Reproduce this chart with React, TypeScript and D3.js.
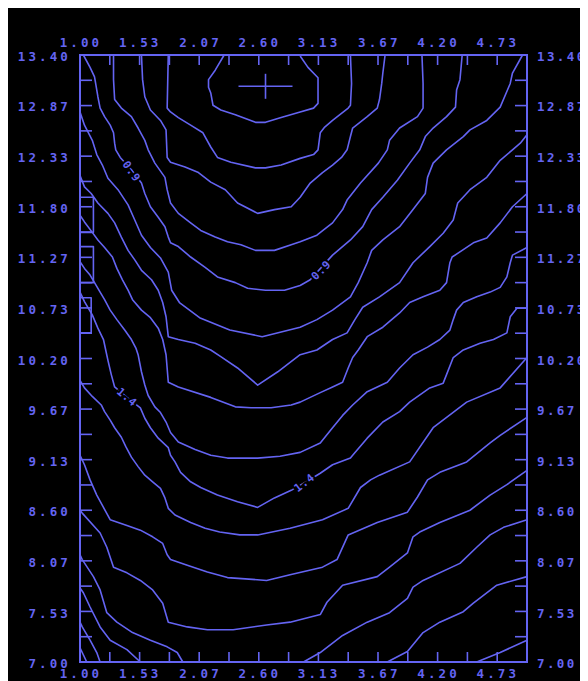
import React from "react";
import * as d3 from "d3";

type P = [number, number];

const xTickLabels = ["1.00", "1.53", "2.07", "2.60", "3.13", "3.67", "4.20", "4.73"];
const yTickLabels = ["13.40", "12.87", "12.33", "11.80", "11.27", "10.73", "10.20", "9.67", "9.13", "8.60", "8.07", "7.53", "7.00"];
const xDomain: P = [1, 5];
const yDomain: P = [7, 13.4];
const xMinorCount = 15;
const yMinorCount = 24;

const minMarker: P = [2.66, 13.07];

// contour polylines (data units), levels 0.5 .. 2.1
const c05: P[] = [[2.29,13.40],[2.21,13.24],[2.15,13.14],[2.15,13.06],[2.17,13.00],[2.19,12.87],[2.26,12.82],[2.39,12.77],[2.57,12.69],[2.66,12.69],[2.80,12.74],[2.97,12.80],[3.09,12.84],[3.13,12.89],[3.13,13.16],[3.04,13.27],[2.97,13.39]];
const c06: P[] = [[1.79,13.40],[1.78,12.84],[1.81,12.80],[1.88,12.74],[1.99,12.66],[2.10,12.58],[2.17,12.43],[2.23,12.32],[2.35,12.27],[2.57,12.21],[2.66,12.21],[2.80,12.24],[2.97,12.31],[3.09,12.35],[3.13,12.40],[3.15,12.58],[3.19,12.64],[3.26,12.71],[3.40,12.84],[3.42,12.87],[3.43,13.10],[3.42,13.40]];
const c07: P[] = [[1.55,13.40],[1.56,13.14],[1.58,12.96],[1.63,12.82],[1.72,12.71],[1.77,12.61],[1.78,12.32],[1.81,12.27],[1.94,12.22],[2.06,12.16],[2.17,12.06],[2.30,11.98],[2.41,11.84],[2.59,11.73],[2.74,11.77],[2.89,11.80],[2.97,11.90],[3.06,12.05],[3.17,12.16],[3.26,12.24],[3.34,12.32],[3.39,12.40],[3.42,12.54],[3.44,12.63],[3.57,12.75],[3.66,12.84],[3.68,12.93],[3.70,13.10],[3.71,13.21],[3.73,13.40]];
const c08: P[] = [[1.30,13.40],[1.30,13.14],[1.31,12.93],[1.37,12.84],[1.46,12.75],[1.52,12.63],[1.58,12.50],[1.61,12.40],[1.67,12.26],[1.76,12.11],[1.78,11.98],[1.81,11.84],[1.88,11.73],[1.99,11.63],[2.08,11.55],[2.21,11.48],[2.32,11.43],[2.44,11.40],[2.57,11.34],[2.74,11.34],[2.89,11.40],[2.97,11.43],[3.12,11.50],[3.26,11.63],[3.35,11.77],[3.39,11.87],[3.51,12.05],[3.67,12.26],[3.75,12.40],[3.77,12.50],[3.86,12.63],[4.02,12.75],[4.07,12.84],[4.07,13.10],[4.06,13.40]];
const c09: P[] = [[1.03,13.40],[1.09,13.27],[1.13,13.17],[1.14,13.10],[1.16,12.96],[1.18,12.84],[1.22,12.75],[1.27,12.66],[1.30,12.58],[1.31,12.47],[1.32,12.40],[1.36,12.32],[1.46,12.19],[1.55,12.05],[1.58,11.94],[1.63,11.80],[1.70,11.69],[1.76,11.59],[1.79,11.48],[1.81,11.42],[1.88,11.38],[1.99,11.27],[2.12,11.16],[2.23,11.06],[2.39,11.00],[2.50,10.94],[2.66,10.92],[2.83,10.92],[2.97,10.97],[3.06,11.03],[3.26,11.29],[3.42,11.45],[3.53,11.59],[3.61,11.77],[3.71,11.90],[3.84,12.08],[3.95,12.26],[4.04,12.40],[4.09,12.54],[4.16,12.63],[4.28,12.75],[4.36,12.85],[4.37,13.03],[4.40,13.14],[4.42,13.40]];
const c10: P[] = [[1.00,12.80],[1.04,12.66],[1.11,12.50],[1.15,12.35],[1.20,12.24],[1.25,12.10],[1.34,11.98],[1.43,11.82],[1.49,11.66],[1.55,11.50],[1.63,11.37],[1.72,11.26],[1.79,11.11],[1.82,10.92],[1.89,10.79],[2.07,10.63],[2.34,10.50],[2.63,10.43],[2.97,10.53],[3.12,10.61],[3.26,10.71],[3.42,10.85],[3.49,11.00],[3.57,11.21],[3.61,11.34],[3.71,11.45],[3.86,11.59],[3.98,11.77],[4.09,11.94],[4.11,12.11],[4.16,12.26],[4.28,12.40],[4.43,12.54],[4.49,12.61],[4.64,12.71],[4.76,12.85],[4.85,13.10],[4.87,13.21],[4.96,13.40]];
const c11: P[] = [[1.00,12.13],[1.04,12.01],[1.10,11.94],[1.16,11.84],[1.25,11.73],[1.31,11.63],[1.37,11.48],[1.43,11.34],[1.49,11.24],[1.55,11.13],[1.64,11.03],[1.70,10.92],[1.74,10.79],[1.77,10.64],[1.79,10.43],[1.88,10.40],[2.03,10.36],[2.17,10.29],[2.26,10.22],[2.41,10.10],[2.59,9.92],[2.77,10.06],[2.97,10.24],[3.12,10.29],[3.26,10.40],[3.39,10.47],[3.46,10.61],[3.53,10.74],[3.68,10.85],[3.86,11.00],[3.98,11.21],[4.13,11.38],[4.25,11.52],[4.34,11.66],[4.38,11.84],[4.49,11.98],[4.64,12.11],[4.76,12.29],[4.87,12.40],[4.94,12.47],[5.00,12.56]];
const c12: P[] = [[1.00,11.71],[1.04,11.64],[1.11,11.53],[1.16,11.45],[1.22,11.37],[1.29,11.27],[1.33,11.15],[1.38,11.03],[1.43,10.92],[1.47,10.82],[1.55,10.71],[1.63,10.63],[1.70,10.52],[1.74,10.40],[1.77,10.24],[1.79,9.95],[1.88,9.90],[2.17,9.79],[2.39,9.69],[2.53,9.68],[2.71,9.68],[2.89,9.71],[2.97,9.74],[3.15,9.84],[3.26,9.90],[3.35,9.95],[3.40,10.10],[3.44,10.21],[3.49,10.29],[3.57,10.43],[3.71,10.53],[3.86,10.68],[3.95,10.79],[4.07,10.85],[4.22,10.92],[4.28,11.00],[4.31,11.21],[4.33,11.27],[4.42,11.34],[4.52,11.42],[4.64,11.47],[4.76,11.63],[4.87,11.80],[5.00,11.94]];
const c13: P[] = [[1.00,11.22],[1.04,11.15],[1.09,11.08],[1.13,11.00],[1.18,10.90],[1.22,10.82],[1.27,10.71],[1.33,10.61],[1.40,10.50],[1.46,10.40],[1.50,10.31],[1.52,10.24],[1.55,10.06],[1.58,9.92],[1.61,9.81],[1.67,9.69],[1.72,9.63],[1.77,9.53],[1.81,9.42],[1.88,9.32],[2.03,9.24],[2.17,9.18],[2.32,9.15],[2.59,9.15],[2.79,9.17],[2.97,9.21],[3.15,9.31],[3.26,9.47],[3.35,9.60],[3.44,9.71],[3.57,9.85],[3.75,9.95],[3.86,10.10],[3.98,10.24],[4.11,10.32],[4.22,10.40],[4.31,10.50],[4.34,10.61],[4.37,10.71],[4.43,10.79],[4.55,10.85],[4.67,10.90],[4.76,10.95],[4.82,11.06],[4.85,11.21],[4.87,11.29],[5.00,11.37]];
const c14: P[] = [[1.00,10.90],[1.04,10.80],[1.11,10.66],[1.16,10.52],[1.21,10.40],[1.23,10.29],[1.25,10.18],[1.28,10.03],[1.31,9.90],[1.42,9.79],[1.54,9.68],[1.58,9.57],[1.63,9.47],[1.70,9.36],[1.79,9.26],[1.81,9.18],[1.85,9.11],[1.90,9.00],[1.99,8.90],[2.08,8.84],[2.23,8.76],[2.41,8.69],[2.59,8.63],[2.74,8.73],[2.89,8.81],[3.01,8.89],[3.15,8.99],[3.26,9.08],[3.42,9.15],[3.44,9.18],[3.57,9.36],[3.71,9.53],[3.86,9.64],[3.95,9.74],[4.13,9.89],[4.25,9.94],[4.28,10.03],[4.34,10.21],[4.43,10.29],[4.58,10.36],[4.70,10.40],[4.82,10.47],[4.85,10.64],[4.91,10.73],[5.00,10.73]];
const c15: P[] = [[1.00,9.97],[1.04,9.89],[1.11,9.80],[1.19,9.71],[1.22,9.64],[1.27,9.55],[1.31,9.47],[1.37,9.37],[1.41,9.27],[1.46,9.16],[1.52,9.06],[1.58,8.97],[1.65,8.90],[1.72,8.83],[1.76,8.73],[1.79,8.62],[1.85,8.55],[1.99,8.47],[2.12,8.41],[2.25,8.37],[2.43,8.34],[2.59,8.34],[2.88,8.41],[3.17,8.50],[3.40,8.62],[3.51,8.84],[3.60,8.92],[3.68,8.97],[3.95,9.11],[4.16,9.47],[4.46,9.74],[4.76,9.89],[5.00,10.21]];
const c16: P[] = [[1.00,9.18],[1.04,9.08],[1.09,8.92],[1.15,8.76],[1.21,8.63],[1.27,8.50],[1.42,8.44],[1.54,8.39],[1.65,8.32],[1.74,8.25],[1.78,8.13],[1.81,8.08],[1.96,8.02],[2.14,7.95],[2.32,7.89],[2.67,7.86],[2.88,7.92],[3.17,8.00],[3.30,8.08],[3.40,8.34],[3.66,8.47],[3.93,8.58],[4.02,8.74],[4.11,8.92],[4.22,9.00],[4.46,9.11],[4.67,9.31],[4.76,9.39],[5.00,9.58]];
const c17: P[] = [[1.00,8.60],[1.02,8.57],[1.18,8.36],[1.24,8.21],[1.30,8.00],[1.42,7.94],[1.54,7.86],[1.65,7.76],[1.74,7.62],[1.79,7.42],[1.96,7.37],[2.14,7.34],[2.37,7.34],[2.67,7.39],[2.88,7.42],[3.15,7.50],[3.21,7.63],[3.35,7.81],[3.66,7.90],[3.77,8.00],[3.93,8.15],[3.98,8.32],[4.04,8.37],[4.22,8.47],[4.49,8.60],[4.67,8.76],[4.82,8.87],[5.00,9.02]];
const c18Left: P[] = [[1.00,8.13],[1.02,8.08],[1.12,7.90],[1.18,7.76],[1.24,7.52],[1.33,7.42],[1.47,7.31],[1.63,7.23],[1.78,7.16],[1.87,7.10],[1.92,7.00]];
const c18Right: P[] = [[3.00,7.00],[3.15,7.10],[3.35,7.28],[3.57,7.42],[3.77,7.52],[3.93,7.67],[3.98,7.79],[4.07,7.86],[4.40,8.04],[4.55,8.21],[4.67,8.34],[4.79,8.42],[5.00,8.50]];
const c19Left: P[] = [[1.00,7.78],[1.03,7.73],[1.09,7.58],[1.18,7.37],[1.27,7.23],[1.42,7.13],[1.54,7.00]];
const c19Right: P[] = [[3.75,7.00],[3.93,7.11],[4.07,7.31],[4.22,7.42],[4.43,7.53],[4.52,7.62],[4.73,7.81],[5.00,7.90]];
const c20Left: P[] = [[1.00,7.42],[1.02,7.37],[1.09,7.23],[1.15,7.10],[1.18,7.00]];
const c20Right: P[] = [[4.55,7.00],[4.76,7.10],[5.00,7.23]];
const c21Left: P[] = [[1.00,7.15],[1.06,7.00]];
const edgeBox1: P[] = [[1.00,11.90],[1.12,11.90],[1.12,11.53],[1.00,11.53]];
const edgeBox2: P[] = [[1.00,11.38],[1.12,11.38],[1.12,11.00],[1.00,11.00]];
const edgeBox3: P[] = [[1.00,10.84],[1.10,10.84],[1.10,10.47],[1.00,10.47]];

const contourLines: P[][] = [c05, c06, c07, c08, c09, c10, c11, c12, c13, c14, c15, c16, c17, c18Left, c18Right, c19Left, c19Right, c20Left, c20Right, c21Left, edgeBox1, edgeBox2, edgeBox3];

const contourLabels: { text: string; x: number; y: number; angle: number }[] = [
  { text: "0.9", x: 1.46, y: 12.17, angle: 55 },
  { text: "0.9", x: 3.16, y: 11.13, angle: -45 },
  { text: "1.4", x: 1.42, y: 9.79, angle: 40 },
  { text: "1.4", x: 3.01, y: 8.89, angle: -38 },
];

const BLUE = "#6464f2";
const FONT = "'DejaVu Sans Mono', monospace";

export default function App() {
  const W = 580, H = 673;
  const left = 72, right = 519, top = 47, bottom = 654;
  const x = d3.scaleLinear().domain(xDomain).range([left, right]);
  const y = d3.scaleLinear().domain(yDomain).range([bottom, top]);
  const line = d3.line<P>().x((d) => x(d[0])).y((d) => y(d[1]));
  const xTicks = d3.range(xMinorCount + 1).map((i) => xDomain[0] + (i * (xDomain[1] - xDomain[0])) / xMinorCount);
  const yTicks = d3.range(yMinorCount + 1).map((i) => yDomain[0] + (i * (yDomain[1] - yDomain[0])) / yMinorCount);
  const mx = x(minMarker[0]), my = y(minMarker[1]);
  const textStyle = { fontFamily: FONT, fontSize: 12.5, letterSpacing: 3.1, fontWeight: 700 } as React.CSSProperties;
  const rightStyle = { fontFamily: FONT, fontSize: 12.5, letterSpacing: 2.4, fontWeight: 700 } as React.CSSProperties;

  return (
    <svg width={W} height={H} style={{ display: "block", background: "#000" }}>
      <rect x={0} y={0} width={W} height={H} fill="#000" />
      <g fill="none" stroke={BLUE} strokeWidth={1.6} strokeLinejoin="round">
        {contourLines.map((c, i) => (
          <path key={i} d={line(c) || ""} />
        ))}
      </g>
      {contourLabels.map((l, i) => (
        <text
          key={i}
          x={x(l.x)}
          y={y(l.y)}
          transform={`rotate(${l.angle} ${x(l.x)} ${y(l.y)})`}
          textAnchor="middle"
          dominantBaseline="central"
          fill={BLUE}
          stroke="#000"
          strokeWidth={4}
          paintOrder="stroke"
          style={{ fontFamily: FONT, fontSize: 11, fontWeight: 700, letterSpacing: 1 }}
        >
          {l.text}
        </text>
      ))}
      <g stroke={BLUE} strokeWidth={1.6}>
        <line x1={mx - 27} x2={mx + 27} y1={my} y2={my} />
        <line x1={mx} x2={mx} y1={my - 12.5} y2={my + 12.5} />
      </g>
      <g stroke={BLUE} strokeWidth={1.6}>
        {xTicks.map((t, i) => (
          <g key={i}>
            <line x1={x(t)} x2={x(t)} y1={top} y2={top + 10} />
            <line x1={x(t)} x2={x(t)} y1={bottom} y2={bottom - 10} />
          </g>
        ))}
        {yTicks.map((t, i) => (
          <g key={i}>
            <line x1={left} x2={left + 12} y1={y(t)} y2={y(t)} />
            <line x1={right} x2={right - 12} y1={y(t)} y2={y(t)} />
          </g>
        ))}
      </g>
      <rect x={left} y={top} width={right - left} height={bottom - top} fill="none" stroke={BLUE} strokeWidth={2} />
      <g fill={BLUE} style={textStyle}>
        {xTickLabels.map((s, i) => (
          <g key={i}>
            <text x={x(parseFloat(s)) + 1} y={top - 8} textAnchor="middle">{s}</text>
            <text x={x(parseFloat(s)) + 1} y={bottom + 16} textAnchor="middle">{s}</text>
          </g>
        ))}
        {yTickLabels.map((s, i) => (
          <text key={i} x={left - 9} y={y(parseFloat(s)) + 6} textAnchor="end">{s}</text>
        ))}
      </g>
      <g fill={BLUE} style={rightStyle}>
        {yTickLabels.map((s, i) => (
          <text key={i} x={right + 10} y={y(parseFloat(s)) + 6} textAnchor="start">{s}</text>
        ))}
      </g>
    </svg>
  );
}
